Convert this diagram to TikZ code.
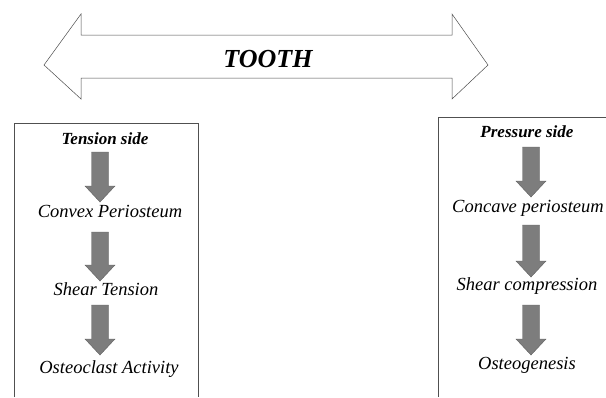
\documentclass[tikz,border=0pt]{standalone}
\usepackage{fontspec}
\setmainfont{Liberation Serif}[ItalicFont={Liberation Serif Italic}, BoldItalicFont={Liberation Serif Bold Italic}, BoldFont={Liberation Serif Bold}]
\usetikzlibrary{calc}
\definecolor{arrowfill}{RGB}{125,125,125}
\definecolor{arrowline}{RGB}{95,95,95}
\definecolor{boxline}{RGB}{80,80,80}
\tikzset{
  lbl/.style={font=\fontsize{18.5}{22}\selectfont\itshape, inner sep=0pt, anchor=base},
  hdr/.style={font=\fontsize{17}{20}\selectfont\bfseries\itshape, inner sep=0pt, anchor=base},
  boxframe/.style={draw=boxline, line width=0.6pt},
  bigarrow/.style={draw=black!70, line width=0.5pt, fill=white},
}
\newcommand\downarrowblock[2]{%
  \path[fill=arrowfill, draw=arrowline, line width=0.4pt]
    let \p1=(#1), \p2=(#2) in
    (\x1-8.5pt,\y1) -- (\x1+8.5pt,\y1) -- (\x1+8.5pt,\y2+16pt) -- (\x1+15pt,\y2+16pt)
    -- (\x1,\y2) -- (\x1-15pt,\y2+16pt) -- (\x1-8.5pt,\y2+16pt) -- cycle;}
\begin{document}
\begin{tikzpicture}[x=1pt,y=-1pt]
\useasboundingbox (0,0) rectangle (606,397);
% big double arrow
\path[bigarrow] (44,65) -- (81,14) -- (81,35) -- (452,35) -- (452,14) -- (488,65)
  -- (452,99) -- (452,78) -- (81,78) -- (81,99) -- cycle;
\node[font=\fontsize{26}{30}\selectfont\bfseries\itshape, inner sep=0pt, anchor=base] (tooth) at (268,67) {TOOTH};
% boxes
\draw[boxframe] (14,397) -- (14,123) -- (198,123) -- (198,397);
\draw[boxframe] (438,397) -- (438,117) -- (606,117);
% left column
\node[hdr] (ts) at (105,144) {Tension side};
\node[lbl] (cp) at (110,217) {Convex Periosteum};
\node[lbl] (st) at (106,295) {Shear Tension};
\node[lbl] (oa) at (109,373) {Osteoclast Activity};
\coordinate (l1a) at (100,152); \coordinate (l1b) at (100,202);
\coordinate (l2a) at (100,232); \coordinate (l2b) at (100,281);
\coordinate (l3a) at (100,305); \coordinate (l3b) at (100,355);
\downarrowblock{l1a}{l1b}
\downarrowblock{l2a}{l2b}
\downarrowblock{l3a}{l3b}
% right column
\node[hdr] (ps) at (527,137) {Pressure side};
\node[lbl] (cc) at (528,212) {Concave periosteum};
\node[lbl] (sc) at (527,290) {Shear compression};
\node[lbl] (og) at (527,369) {Osteogenesis};
\coordinate (r1a) at (531,147); \coordinate (r1b) at (531,197);
\coordinate (r2a) at (531,225); \coordinate (r2b) at (531,277);
\coordinate (r3a) at (531,305); \coordinate (r3b) at (531,355);
\downarrowblock{r1a}{r1b}
\downarrowblock{r2a}{r2b}
\downarrowblock{r3a}{r3b}
\end{tikzpicture}
\end{document}
